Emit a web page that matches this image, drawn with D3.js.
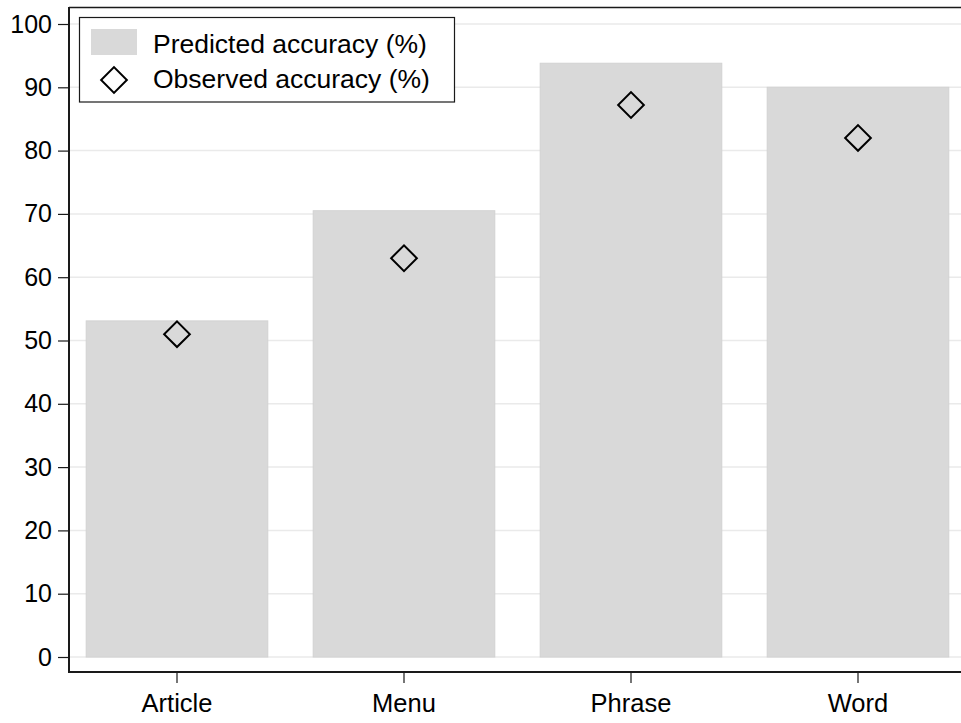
<!DOCTYPE html>
<html><head><meta charset="utf-8">
<script src="https://cdn.jsdelivr.net/npm/d3@7"></script>
<style>body{margin:0;background:#fff}text{font-family:"Liberation Sans",Arial,sans-serif}</style>
</head><body><svg id="c" width="961" height="723"></svg>
<script>
const categories = ["Article","Menu","Phrase","Word"];
const predicted = [53.1, 70.5, 93.8, 90.0];
const observed = [51.0, 63.0, 87.2, 82.0];
const yTicks = [0,10,20,30,40,50,60,70,80,90,100];
const legendLabels = ["Predicted accuracy (%)","Observed accuracy (%)"];

const svg = d3.select("#c");
const x = d3.scaleBand().domain(categories).range([63.5, 971.5]).paddingInner(0.2).paddingOuter(0.1);
const y = d3.scaleLinear().domain([0,100]).range([657,24]);

// gridlines
svg.append("g").selectAll("line").data(yTicks).join("line")
  .attr("x1",69).attr("x2",961).attr("y1",d=>y(d)).attr("y2",d=>y(d))
  .attr("stroke","#eaeaea").attr("stroke-width",1.5);

// bars
svg.append("g").selectAll("rect").data(categories).join("rect")
  .attr("x",d=>x(d)).attr("width",x.bandwidth())
  .attr("y",(d,i)=>y(predicted[i])).attr("height",(d,i)=>y(0)-y(predicted[i]))
  .attr("fill","#d9d9d9").attr("stroke","#d2d2d2").attr("stroke-width",1);

// diamonds
const dsym = d3.symbol().type(d3.symbolSquare).size(330);
svg.append("g").selectAll("path").data(categories).join("path")
  .attr("d",dsym)
  .attr("transform",(d,i)=>`translate(${x(d)+x.bandwidth()/2},${y(observed[i])}) rotate(45)`)
  .attr("fill","none").attr("stroke","#000").attr("stroke-width",2);

// frame top
svg.append("line").attr("x1",69).attr("x2",961).attr("y1",7.5).attr("y2",7.5).attr("stroke","#1a1a1a").attr("stroke-width",1.5);

// y axis
const yAxis = d3.axisLeft(y).tickValues(yTicks).tickSize(11).tickPadding(6).tickSizeOuter(0);
const gy = svg.append("g").attr("transform","translate(69,0)").call(yAxis);
gy.select(".domain").remove();
gy.attr("font-size",25).attr("font-family",null);
svg.append("line").attr("x1",69).attr("x2",69).attr("y1",7).attr("y2",673).attr("stroke","#1a1a1a").attr("stroke-width",2);
gy.selectAll(".tick line").attr("stroke","#1a1a1a").attr("stroke-width",1.2);
gy.selectAll("text").attr("fill","#000");

// x axis
const xAxis = d3.axisBottom(x).tickSize(11).tickPadding(11).tickSizeOuter(0);
const gx = svg.append("g").attr("transform","translate(0,672)").call(xAxis);
gx.select(".domain").remove();
gx.attr("font-size",25.5).attr("font-family",null);
svg.append("line").attr("x1",68).attr("x2",961).attr("y1",672).attr("y2",672).attr("stroke","#1a1a1a").attr("stroke-width",2);
gx.selectAll(".tick line").attr("stroke","#1a1a1a").attr("stroke-width",1.2);
gx.selectAll("text").attr("fill","#000");

// legend
const lg = svg.append("g");
lg.append("rect").attr("x",79.5).attr("y",17.5).attr("width",375).attr("height",84.5)
  .attr("fill","#fff").attr("stroke","#1a1a1a").attr("stroke-width",1.2);
lg.append("rect").attr("x",91).attr("y",29).attr("width",46).attr("height",26).attr("fill","#d9d9d9");
lg.append("path").attr("d",dsym).attr("transform","translate(114,80) rotate(45)")
  .attr("fill","none").attr("stroke","#000").attr("stroke-width",2);
lg.selectAll("text").data(legendLabels).join("text")
  .attr("x",153).attr("y",(d,i)=>53+i*35).attr("font-size",26.5).attr("fill","#000").text(d=>d);
</script></body></html>
